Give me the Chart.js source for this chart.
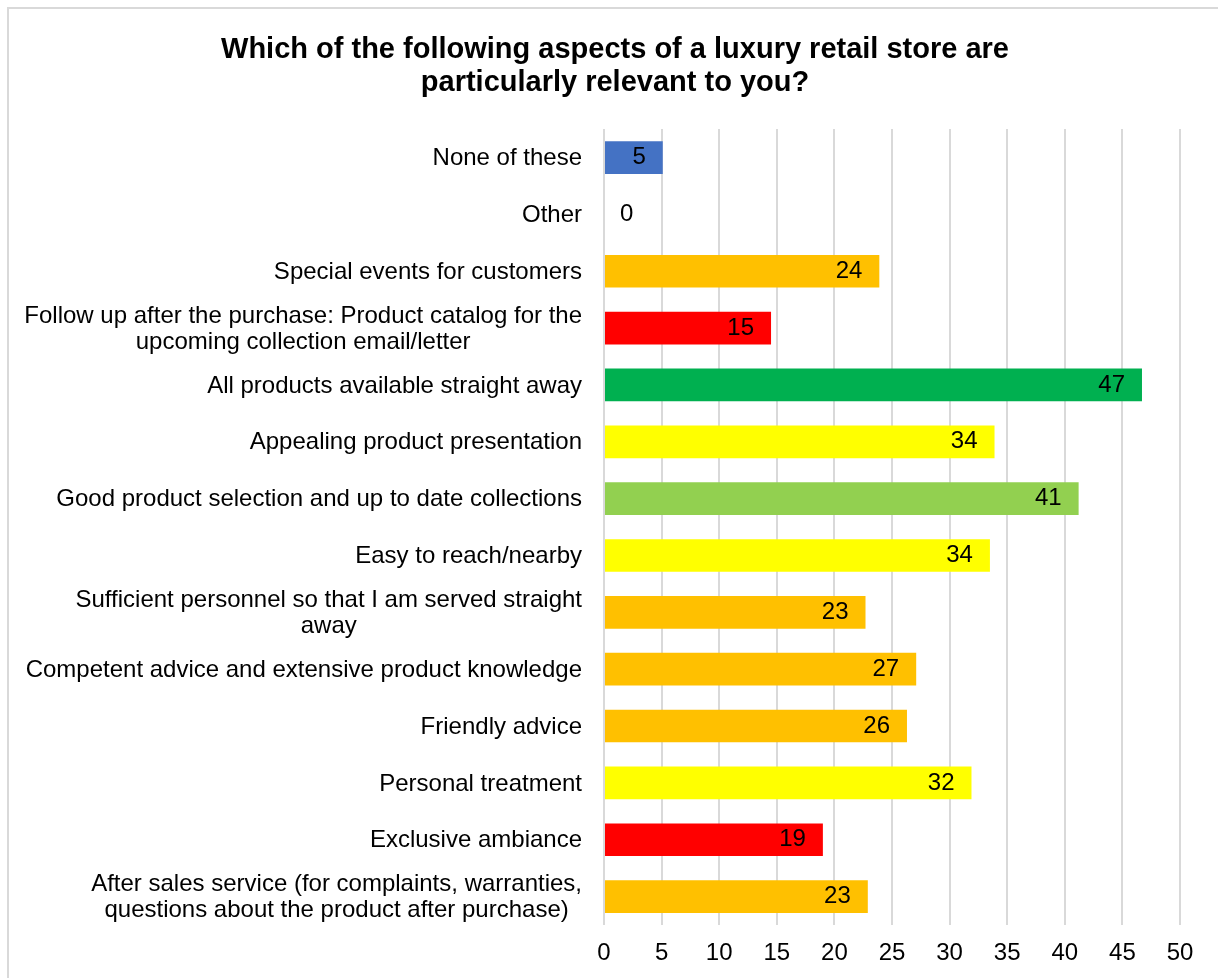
<!DOCTYPE html>
<html>
<head>
<meta charset="utf-8">
<script src="https://cdn.jsdelivr.net/npm/chart.js@4"></script>
<style>
  html, body { margin: 0; padding: 0; background: #fff; }
  #wrap { position: relative; width: 1218px; height: 978px; }
</style>
</head>
<body>
<div id="wrap"><canvas id="chart"></canvas></div>
<script>
const categories = [
    'None of these',
    'Other',
    'Special events for customers',
    ['Follow up after the purchase: Product catalog for the', 'upcoming collection email/letter'],
    'All products available straight away',
    'Appealing product presentation',
    'Good product selection and up to date collections',
    'Easy to reach/nearby',
    ['Sufficient personnel so that I am served straight', 'away'],
    'Competent advice and extensive product knowledge',
    'Friendly advice',
    'Personal treatment',
    'Exclusive ambiance',
    ['After sales service (for complaints, warranties,', 'questions about the product after purchase)']
];
const values = [5.1, 0, 23.9, 14.5, 46.7, 33.9, 41.2, 33.5, 22.7, 27.1, 26.3, 31.9, 19.0, 22.9];
const barColors = [
    '#4472C4', '#4472C4', '#FFC000', '#FF0000', '#00B050', '#FFFF00', '#92D050',
    '#FFFF00', '#FFC000', '#FFC000', '#FFC000', '#FFFF00', '#FF0000', '#FFC000'
];
const titleLines = [
    'Which of the following aspects of a luxury retail store are',
    'particularly relevant to you?'
];

const FONT = '"Liberation Sans", Arial, sans-serif';

// outer border, y labels (centered multi-line) and value labels
const extras = {
    id: 'extras',
    beforeDraw(chart) {
        const ctx = chart.ctx;
        ctx.save();
        ctx.strokeStyle = '#d9d9d9';
        ctx.lineWidth = 2;
        ctx.strokeRect(8, 8, chart.width + 20, chart.height + 20);
        ctx.restore();
    },
    afterDatasetsDraw(chart) {
        const ctx = chart.ctx;
        const yScale = chart.scales.y;
        const meta = chart.getDatasetMeta(0);
        ctx.save();
        ctx.fillStyle = '#000';
        ctx.font = '24px ' + FONT;
        ctx.textBaseline = 'middle';

        // category labels
        const rightEdge = chart.chartArea.left - 22;
        categories.forEach((lab, i) => {
            const lines = Array.isArray(lab) ? lab : [lab];
            const w = Math.max(...lines.map(l => ctx.measureText(l).width));
            const cx = rightEdge - w / 2;
            const y = yScale.getPixelForValue(i) + 1;
            const lh = 26;
            ctx.textAlign = 'center';
            lines.forEach((l, k) => {
                ctx.fillText(l, cx, y + (k - (lines.length - 1) / 2) * lh);
            });
        });

        // value labels, inside end
        meta.data.forEach((bar, i) => {
            const v = values[i];
            const txt = String(Math.round(v));
            const tw = ctx.measureText(txt).width;
            const barLen = bar.x - bar.base;
            if (barLen > tw + 20) {
                ctx.textAlign = 'right';
                ctx.fillText(txt, bar.x - 17, bar.y);
            } else {
                ctx.textAlign = 'left';
                ctx.fillText(txt, bar.base + 16, bar.y);
            }
        });
        ctx.restore();
    }
};

new Chart(document.getElementById('chart'), {
    type: 'bar',
    data: {
        labels: categories,
        datasets: [{
            data: values,
            backgroundColor: barColors,
            borderWidth: 0,
            categoryPercentage: 1,
            barPercentage: 0.575
        }]
    },
    options: {
        indexAxis: 'y',
        responsive: true,
        maintainAspectRatio: false,
        animation: false,
        layout: { padding: { top: 8, right: 38, bottom: 0, left: 50 } },
        plugins: {
            legend: { display: false },
            tooltip: { enabled: false },
            title: {
                display: true,
                text: titleLines,
                color: '#000',
                font: { family: FONT, size: 29, weight: 'bold', lineHeight: 1.14 },
                padding: { top: 25, bottom: 30 }
            }
        },
        scales: {
            x: {
                min: 0,
                max: 50,
                ticks: {
                    stepSize: 5,
                    color: '#000',
                    font: { family: FONT, size: 24 },
                    padding: 14
                },
                grid: { color: '#d9d9d9', lineWidth: 2, drawTicks: false },
                border: { display: false },
                afterFit(scale) { scale.height = 53; }
            },
            y: {
                offset: true,
                ticks: { display: false },
                grid: { display: false, drawTicks: false },
                border: { display: false },
                afterFit(scale) { scale.width = 554; }
            }
        }
    },
    plugins: [extras]
});
</script>
</body>
</html>
